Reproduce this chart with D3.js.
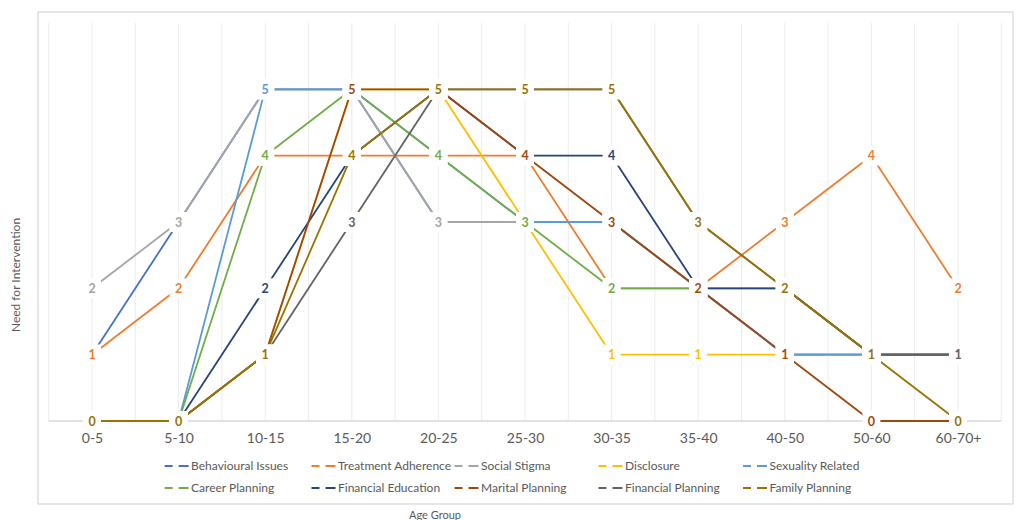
<!DOCTYPE html>
<html>
<head>
<meta charset="utf-8">
<script src="https://cdn.jsdelivr.net/npm/d3@7"></script>
<style>
  html, body { margin: 0; padding: 0; background: #ffffff; }
  svg { display: block; }
</style>
</head>
<body>
<svg id="chart" width="1016" height="520"></svg>
<script>
// ---- data ----
const categories = ["0-5","5-10","10-15","15-20","20-25","25-30","30-35","35-40","40-50","50-60","60-70+"];
const seriesNames = ["Behavioural Issues","Treatment Adherence","Social Stigma","Disclosure","Sexuality Related",
                     "Career Planning","Financial Education","Marital Planning","Financial Planning","Family Planning"];
const behaviouralIssues  = [1,3,5,5,3,3,3,2,1,1,1];
const treatmentAdherence = [1,2,4,4,4,4,2,2,3,4,2];
const socialStigma       = [2,3,5,5,3,3,3,2,1,1,1];
const disclosure         = [0,0,1,5,5,3,1,1,1,1,1];
const sexualityRelated   = [0,0,5,5,4,3,3,2,1,1,1];
const careerPlanning     = [0,0,4,5,4,3,2,2,2,1,1];
const financialEducation = [0,0,2,4,5,4,4,2,2,1,1];
const maritalPlanning    = [0,0,1,5,5,4,3,2,1,0,0];
const financialPlanning  = [0,0,1,3,5,5,5,3,2,1,1];
const familyPlanning     = [0,0,1,4,5,5,5,3,2,1,0];
const yTicks = [0,1,2,3,4,5,6];
const xTitle = "Age Group";
const yTitle = "Need for Intervention";

const seriesValues = [behaviouralIssues, treatmentAdherence, socialStigma, disclosure, sexualityRelated,
                      careerPlanning, financialEducation, maritalPlanning, financialPlanning, familyPlanning];
const colors = ["#4472C4","#ED7D31","#A5A5A5","#FFC000","#5B9BD5","#70AD47","#264478","#9E480E","#636363","#997300"];

const series = seriesNames.map((name, i) => ({
  name, color: colors[i],
  values: categories.map((c, j) => ({ cat: c, v: seriesValues[i][j] }))
}));

// ---- layout ----
const svg = d3.select("#chart");
const plotL = 48.7, plotR = 1001.3, plotT = 23, plotB = 421;

const x = d3.scalePoint().domain(categories).range([plotL, plotR]).padding(0.5);
const y = d3.scaleLinear().domain([0, d3.max(yTicks)]).range([plotB, plotT]);
const step = x.step();

// chart border
svg.append("rect")
  .attr("x", 38).attr("y", 12).attr("width", 975).attr("height", 492)
  .attr("fill", "none").attr("stroke", "#d9d9d9").attr("stroke-width", 1.3);

// vertical gridlines at categories and between them
const gridXs = [];
for (let k = 0; k <= categories.length * 2; k++) gridXs.push(plotL + k * step / 2);
svg.append("g").selectAll("line").data(gridXs).join("line")
  .attr("x1", d => d).attr("x2", d => d)
  .attr("y1", plotT).attr("y2", plotB)
  .attr("stroke", "#ececec").attr("stroke-width", 1);

// x axis
const xAxis = d3.axisBottom(x).tickSize(0).tickPadding(12);
const gx = svg.append("g").attr("transform", `translate(0,${plotB})`).call(xAxis);
gx.select(".domain").attr("stroke", "#d9d9d9").attr("stroke-width", 1.3)
  .attr("d", `M${plotL},0H${plotR}`);
gx.selectAll("text")
  .attr("fill", "#595959")
  .style("font-family", "Lato, 'Open Sans', sans-serif")
  .style("font-size", "14px");

// lines
const line = d3.line().x(d => x(d.cat)).y(d => y(d.v));
svg.append("g").selectAll("path").data(series).join("path")
  .attr("d", d => line(d.values))
  .attr("fill", "none")
  .attr("stroke", d => d.color)
  .attr("stroke-width", 1.8)
  .attr("stroke-linejoin", "round");

// data labels (white box + colored bold value), later series on top
const labG = svg.append("g");
series.forEach(s => {
  const g = labG.append("g");
  const pts = g.selectAll("g").data(s.values).join("g")
    .attr("transform", d => `translate(${x(d.cat)},${y(d.v)})`);
  pts.append("rect")
    .attr("x", -9).attr("y", -10).attr("width", 18).attr("height", 20)
    .attr("fill", "#ffffff");
  pts.append("text")
    .attr("text-anchor", "middle")
    .attr("dy", "0.36em")
    .attr("fill", s.color)
    .style("font-family", "Lato, 'Open Sans', sans-serif")
    .style("font-weight", "bold")
    .style("font-size", "12.5px")
    .text(d => d.v);
});

// legend
const legendCols = [164.6, 311.5, 454.5, 598.5, 743];
const legendRows = [466, 488];
const lg = svg.append("g");
series.forEach((s, i) => {
  const cx = legendCols[i % 5], cy = legendRows[Math.floor(i / 5)];
  const g = lg.append("g").attr("transform", `translate(${cx},${cy})`);
  g.append("line").attr("x1", 0).attr("x2", 24).attr("y1", 0).attr("y2", 0)
    .attr("stroke", s.color).attr("stroke-width", 1.8)
    .attr("stroke-dasharray", "8,6,10");
  g.append("text").attr("x", 26.5).attr("dy", "0.35em")
    .attr("fill", "#595959")
    .style("font-family", "Lato, 'Open Sans', sans-serif")
    .style("font-size", "12px")
    .text(s.name);
});

// axis titles
svg.append("text")
  .attr("transform", `translate(16,275) rotate(-90)`)
  .attr("text-anchor", "middle").attr("dy", "0.35em")
  .attr("fill", "#595959")
  .style("font-family", "Lato, 'Open Sans', sans-serif")
  .style("font-size", "12px")
  .text(yTitle);

svg.append("text")
  .attr("x", 435).attr("y", 515)
  .attr("text-anchor", "middle").attr("dy", "0.35em")
  .attr("fill", "#595959")
  .style("font-family", "Lato, 'Open Sans', sans-serif")
  .style("font-size", "11px")
  .text(xTitle);
</script>
</body>
</html>
